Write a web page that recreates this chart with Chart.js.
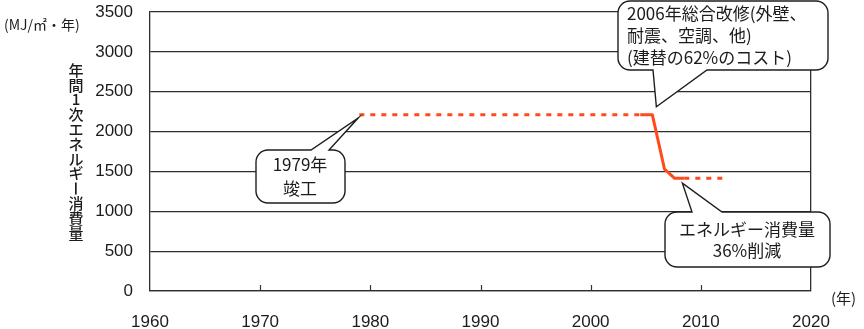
<!DOCTYPE html>
<html lang="ja">
<head>
<meta charset="utf-8">
<title>年間1次エネルギー消費量の推移</title>
<script src="https://cdn.jsdelivr.net/npm/chart.js@4.4.1/dist/chart.umd.min.js"></script>
<style>
  html, body { margin: 0; padding: 0; background: #ffffff; }
  #wrap { width: 864px; height: 329px; position: relative; }
</style>
</head>
<body>
<div id="wrap"><canvas id="chart" width="864" height="329"></canvas></div>
<script>
// Annual primary energy use of the building (MJ/m²·year)
const years  = [1979, 2004.5, 2005.6, 2006.7, 2007.6, 2008.5, 2012];
const energy = [2210, 2210,   2210,   1530,   1415,   1415,   1415];
// segments (by start index) that are drawn dashed: estimated periods
const estimatedSegments = [0, 5];

const xTicks = [1960, 1970, 1980, 1990, 2000, 2010, 2020];
const yTicks = [0, 500, 1000, 1500, 2000, 2500, 3000, 3500];

const unitLabel   = '(MJ/㎡・年)';
const yearLabel   = '(年)';
const yTitle      = '年間1次エネルギー消費量';
const noteBuilt   = ['1979年', '竣工'];
const noteRenew   = ['2006年総合改修(外壁、', '耐震、空調、他)', '(建替の62%のコスト)'];
const noteSaving  = ['エネルギー消費量', '36%削減'];

const INK = '#1c1c1c';
const LINE = '#ff4a1c';
const JP = '"Noto Sans CJK JP", "Noto Sans", sans-serif';
const NUM = '"Liberation Sans", Arial, sans-serif';

// rounded box with a pointer on its top or bottom edge
function callout(ctx, box, base, tip, edge) {
  const { l, t, r, b } = box, rad = 12;
  ctx.beginPath();
  ctx.moveTo(l + rad, t);
  if (edge === 'top') {
    ctx.lineTo(base[0], t);
    ctx.lineTo(tip.x, tip.y);
    ctx.lineTo(base[1], t);
  }
  ctx.lineTo(r - rad, t);
  ctx.arcTo(r, t, r, t + rad, rad);
  ctx.lineTo(r, b - rad);
  ctx.arcTo(r, b, r - rad, b, rad);
  if (edge === 'bottom') {
    ctx.lineTo(base[1], b);
    ctx.lineTo(tip.x, tip.y);
    ctx.lineTo(base[0], b);
  }
  ctx.lineTo(l + rad, b);
  ctx.arcTo(l, b, l, b - rad, rad);
  ctx.lineTo(l, t + rad);
  ctx.arcTo(l, t, l + rad, t, rad);
  ctx.closePath();
  ctx.fillStyle = '#ffffff';
  ctx.fill();
  ctx.lineWidth = 1.4;
  ctx.strokeStyle = '#1e1e1e';
  ctx.lineJoin = 'miter';
  ctx.stroke();
}

const decor = {
  id: 'decor',
  afterDraw(chart) {
    const ctx = chart.ctx;
    const xs = chart.scales.x, ys = chart.scales.y;
    const bottom = chart.chartArea.bottom;
    ctx.save();

    // inner tick marks on the year axis
    ctx.strokeStyle = '#333333';
    ctx.lineWidth = 1.2;
    xTicks.slice(1, -1).forEach(v => {
      const px = Math.round(xs.getPixelForValue(v)) + 0.5;
      ctx.beginPath();
      ctx.moveTo(px, bottom);
      ctx.lineTo(px, bottom - 6);
      ctx.stroke();
    });

    // unit and axis captions
    ctx.fillStyle = INK;
    ctx.textBaseline = 'middle';
    ctx.font = '14px ' + JP;
    ctx.textAlign = 'left';
    ctx.fillText(unitLabel, 4, 25);
    ctx.font = '15px ' + JP;
    ctx.fillText(yearLabel, 831, 298);

    // vertical title, one character per row
    ctx.font = '500 15px ' + JP;
    ctx.textAlign = 'center';
    [...yTitle].forEach((ch, i) => {
      const cy = 70 + i * 14.8;
      if (ch === 'ー') {
        ctx.save();
        ctx.translate(76, cy);
        ctx.rotate(Math.PI / 2);
        ctx.fillText(ch, 0, 0);
        ctx.restore();
      } else {
        ctx.fillText(ch, 76, cy);
      }
    });

    // callout: completion
    const tBuilt = { x: xs.getPixelForValue(years[0]) - 1, y: ys.getPixelForValue(energy[0]) + 3 };
    callout(ctx, { l: 256, t: 150, r: 345, b: 203 }, [311, 329], tBuilt, 'top');
    ctx.fillStyle = INK;
    ctx.font = '17px ' + JP;
    ctx.textAlign = 'center';
    noteBuilt.forEach((s, i) => ctx.fillText(s, 300, 165 + i * 24));

    // callout: renovation
    const tRenew = { x: xs.getPixelForValue(years[2]) + 4, y: ys.getPixelForValue(energy[2]) - 8 };
    callout(ctx, { l: 618, t: 1, r: 828, b: 70 }, [653, 707], tRenew, 'bottom');
    ctx.fillStyle = INK;
    ctx.textAlign = 'left';
    noteRenew.forEach((s, i) => ctx.fillText(s, 627, 14 + i * 22));

    // callout: saving
    const tSave = { x: xs.getPixelForValue(years[4]) + 8, y: ys.getPixelForValue(energy[4]) + 5 };
    callout(ctx, { l: 665, t: 212, r: 830, b: 267 }, [692, 722], tSave, 'top');
    ctx.fillStyle = INK;
    ctx.textAlign = 'center';
    noteSaving.forEach((s, i) => ctx.fillText(s, 747, 230 + i * 21));

    ctx.restore();
  }
};

new Chart(document.getElementById('chart'), {
  type: 'line',
  data: {
    datasets: [{
      data: years.map((x, i) => ({ x, y: energy[i] })),
      borderColor: LINE,
      borderWidth: 3,
      pointRadius: 0,
      tension: 0,
      borderJoinStyle: 'round',
      segment: {
        borderDash: c => estimatedSegments.includes(c.p0DataIndex) ? [5, 6] : undefined
      }
    }]
  },
  options: {
    responsive: false,
    animation: false,
    events: [],
    layout: { padding: { left: 0, right: 53, top: 12, bottom: 0 } },
    plugins: { legend: { display: false }, tooltip: { enabled: false } },
    scales: {
      x: {
        type: 'linear',
        min: xTicks[0],
        max: xTicks[xTicks.length - 1],
        afterBuildTicks: s => { s.ticks = xTicks.map(v => ({ value: v })); },
        afterFit: s => { s.height = 38; s.paddingLeft = 0; s.paddingRight = 0; },
        ticks: {
          callback: v => String(v),
          color: INK,
          font: { family: NUM, size: 17 },
          padding: 21,
          maxRotation: 0
        },
        grid: {
          drawTicks: false,
          color: c => (c.tick && c.tick.value === 2020) ? '#2e2e2e' : 'rgba(0,0,0,0)',
          lineWidth: 1.3
        },
        border: { display: true, color: '#2e2e2e', width: 1.3 }
      },
      y: {
        min: yTicks[0],
        max: yTicks[yTicks.length - 1],
        afterBuildTicks: s => { s.ticks = yTicks.map(v => ({ value: v })); },
        afterFit: s => { s.width = 150; s.paddingTop = 0; s.paddingBottom = 0; },
        ticks: {
          callback: v => String(v),
          color: INK,
          font: { family: NUM, size: 17 },
          padding: 17
        },
        grid: { drawTicks: false, color: '#2e2e2e', lineWidth: 1.2 },
        border: { display: true, color: '#2e2e2e', width: 1.3 }
      }
    }
  },
  plugins: [decor]
});
</script>
</body>
</html>
